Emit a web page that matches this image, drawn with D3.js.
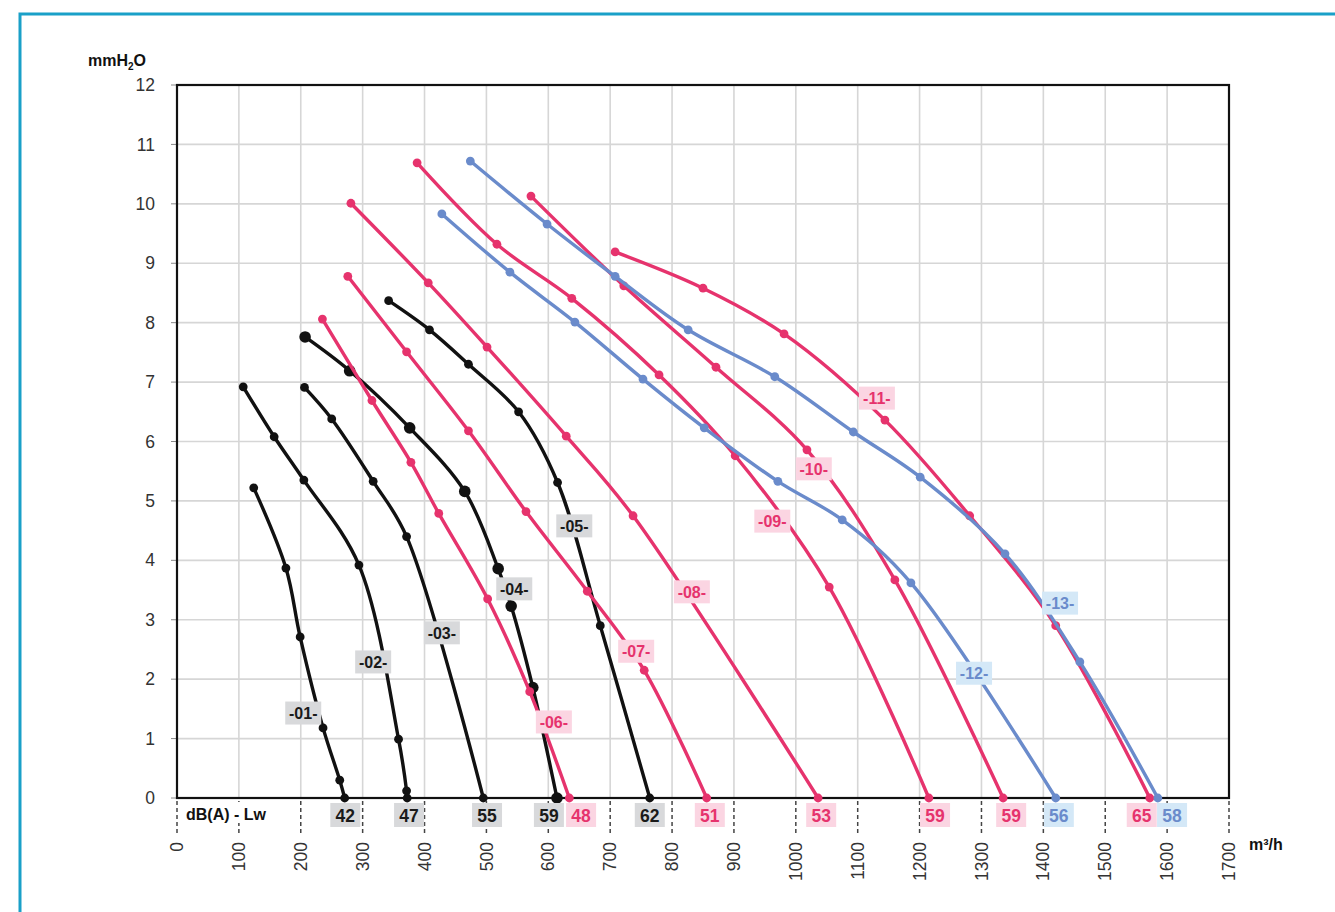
<!DOCTYPE html>
<html><head><meta charset="utf-8">
<script src="https://cdn.jsdelivr.net/npm/d3@7/dist/d3.min.js"></script>
<style>
body{margin:0;background:#fff;}
svg{display:block;font-family:"Liberation Sans",Arial,Helvetica,sans-serif;}
</style></head>
<body><svg id="c" width="1335" height="912"></svg>
<script>
// ---- data (flow m3/h, pressure mmH2O) ----
const curveIds = ["01","02","03","04","05","06","07","08","09","10","11","12","13"];
const curveGroup = ["k","k","k","k","k","p","p","p","p","p","p","b","b"];
const flow01 = [124,176,199,236,263,271];
const pres01 = [5.22,3.87,2.71,1.18,0.30,0];
const flow02 = [107,157,205,294,358,371,372];
const pres02 = [6.92,6.08,5.35,3.92,0.99,0.12,0];
const flow03 = [206,250,317,371,495];
const pres03 = [6.91,6.38,5.33,4.40,0];
const flow04 = [207,279,376,465,519,540,575,614];
const pres04 = [7.76,7.19,6.23,5.16,3.86,3.23,1.86,0];
const flow05 = [342,408,471,552,615,684,764];
const pres05 = [8.37,7.88,7.30,6.50,5.31,2.90,0];
const flow06 = [235,315,378,423,502,570,634];
const pres06 = [8.06,6.69,5.65,4.79,3.35,1.79,0];
const flow07 = [276,371,471,564,663,755,856];
const pres07 = [8.78,7.51,6.18,4.82,3.48,2.15,0];
const flow08 = [281,406,501,629,737,1036];
const pres08 = [10.01,8.67,7.59,6.09,4.75,0];
const flow09 = [388,517,638,779,902,1054,1215];
const pres09 = [10.69,9.32,8.41,7.12,5.76,3.55,0];
const flow10 = [572,722,871,1018,1160,1335];
const pres10 = [10.13,8.62,7.25,5.86,3.67,0];
const flow11 = [708,850,981,1144,1281,1420,1572];
const pres11 = [9.19,8.58,7.81,6.36,4.75,2.90,0];
const flow12 = [428,538,643,753,852,971,1075,1186,1420];
const pres12 = [9.83,8.85,8.01,7.05,6.23,5.33,4.68,3.62,0];
const flow13 = [474,598,708,826,966,1093,1201,1338,1459,1585];
const pres13 = [10.72,9.66,8.78,7.88,7.09,6.16,5.40,4.11,2.29,0];
const flows = [flow01,flow02,flow03,flow04,flow05,flow06,flow07,flow08,flow09,flow10,flow11,flow12,flow13];
const press = [pres01,pres02,pres03,pres04,pres05,pres06,pres07,pres08,pres09,pres10,pres11,pres12,pres13];
// curve name label anchors (flow, pressure)
const labelFlow = [204,317,428,545,642,609,742,832,962,1029,1131,1288,1427];
const labelPres = [1.43,2.29,2.78,3.52,4.58,1.28,2.47,3.47,4.66,5.54,6.73,2.10,3.28];
// sound power dB(A) labels and their flow anchors
const dbValues = ["42","47","55","59","62","48","51","53","59","59","65","56","58"];
const dbGroup  = ["k","k","k","k","k","p","p","p","p","p","p","b","b"];
const dbFlow   = [272,375,501,601,764,653,861,1041,1225,1348,1559,1425,1608];
const xTicks = d3.range(0,1701,100);
const yTicks = d3.range(0,13,1);

// ---- styles ----
const lineCol = {k:"#111111", p:"#e6336d", b:"#6a8bcb"};
const boxCol  = {k:"#d8d9db", p:"#fbd5e2", b:"#d4e8f7"};
const txtCol  = {k:"#1a1a1a", p:"#e6336d", b:"#6a8bcb"};

const svg = d3.select("#c");
const x = d3.scaleLinear().domain([0,1700]).range([177,1229]);
const y = d3.scaleLinear().domain([0,12]).range([798,85]);

// outer teal border
svg.append("rect").attr("x",20).attr("y",14).attr("width",1340).attr("height",930)
  .attr("fill","none").attr("stroke","#1aa0c8").attr("stroke-width",3);

// grid
const g = svg.append("g");
g.selectAll("line.vg").data(xTicks.slice(1,-1)).join("line")
  .attr("x1",d=>x(d)).attr("x2",d=>x(d)).attr("y1",y(12)).attr("y2",y(0))
  .attr("stroke","#d6d6d6").attr("stroke-width",1.6);
g.selectAll("line.hg").data(yTicks.slice(1,-1)).join("line")
  .attr("x1",x(0)).attr("x2",x(1700)).attr("y1",d=>y(d)).attr("y2",d=>y(d))
  .attr("stroke","#d6d6d6").attr("stroke-width",1.6);

// y axis ticks and labels
g.selectAll("line.yt").data(yTicks).join("line")
  .attr("x1",x(0)-6).attr("x2",x(0)).attr("y1",d=>y(d)).attr("y2",d=>y(d))
  .attr("stroke","#888").attr("stroke-width",1);
g.selectAll("text.yl").data(yTicks).join("text")
  .attr("x",155).attr("y",d=>y(d)).attr("dy","0.35em").attr("text-anchor","end")
  .attr("font-size",17.5).attr("fill","#333").text(d=>d);

// x dashed ticks and rotated labels
g.selectAll("line.xt").data(xTicks).join("line")
  .attr("x1",d=>x(d)).attr("x2",d=>x(d)).attr("y1",y(0)+3).attr("y2",y(0)+38)
  .attr("stroke","#444").attr("stroke-width",1.5).attr("stroke-dasharray","4,3");
g.selectAll("text.xl").data(xTicks).join("text")
  .attr("transform",d=>`translate(${x(d)},842) rotate(-90)`)
  .attr("dy","0.35em").attr("text-anchor","end")
  .attr("font-size",17.5).attr("fill","#333").text(d=>d);

// axis titles
const t1 = svg.append("text").attr("x",88).attr("y",66).attr("font-size",16)
  .attr("font-weight","bold").attr("fill","#111");
t1.append("tspan").text("mmH");
t1.append("tspan").attr("font-size",10).attr("dy",4).text("2");
t1.append("tspan").attr("dy",-4).text("O");
svg.append("text").attr("x",1249).attr("y",850).attr("font-size",16)
  .attr("font-weight","bold").attr("fill","#111").text("m³/h");
svg.append("rect").attr("x",183).attr("y",802).attr("width",98).attr("height",21).attr("fill","#fff");
svg.append("text").attr("x",186).attr("y",820).attr("font-size",16)
  .attr("font-weight","bold").attr("fill","#111").text("dB(A) - Lw");

// frame
svg.append("rect").attr("x",x(0)).attr("y",y(12)).attr("width",x(1700)-x(0)).attr("height",y(0)-y(12))
  .attr("fill","none").attr("stroke","#111").attr("stroke-width",2.2);

// curves
const line = d3.line().x(d=>x(d[0])).y(d=>y(d[1])).curve(d3.curveCatmullRom.alpha(0.5));
curveIds.forEach((id,i)=>{
  const pts = flows[i].map((f,j)=>[f,press[i][j]]);
  const col = lineCol[curveGroup[i]];
  svg.append("path").datum(pts).attr("d",line).attr("fill","none")
    .attr("stroke",col).attr("stroke-width",3.4).attr("stroke-linejoin","round");
  svg.append("g").selectAll("circle").data(pts).join("circle")
    .attr("cx",d=>x(d[0])).attr("cy",d=>y(d[1]))
    .attr("r", id==="04" ? 5.8 : 4.4).attr("fill",col);
});

// curve labels
curveIds.forEach((id,i)=>{
  const cx = x(labelFlow[i]), cy = y(labelPres[i]);
  const grp = curveGroup[i];
  svg.append("rect").attr("x",cx-18).attr("y",cy-11.5).attr("width",36).attr("height",23)
    .attr("fill",boxCol[grp]);
  svg.append("text").attr("x",cx).attr("y",cy).attr("dy","0.36em").attr("text-anchor","middle")
    .attr("font-size",16).attr("font-weight","bold").attr("fill",txtCol[grp]).text("-"+id+"-");
});

// dB labels
dbValues.forEach((v,i)=>{
  const cx = x(dbFlow[i]);
  const grp = dbGroup[i];
  svg.append("rect").attr("x",cx-15).attr("y",803).attr("width",30).attr("height",24)
    .attr("fill",boxCol[grp]);
  svg.append("text").attr("x",cx).attr("y",815.5).attr("dy","0.36em").attr("text-anchor","middle")
    .attr("font-size",17.5).attr("font-weight","bold").attr("fill",txtCol[grp]).text(v);
});
</script></body></html>
